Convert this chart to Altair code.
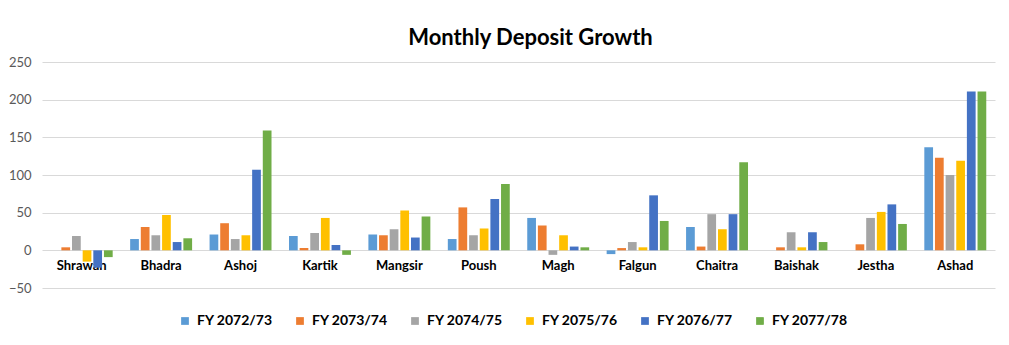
import altair as alt
import pandas as pd

months = ["Shrawan", "Bhadra", "Ashoj", "Kartik", "Mangsir", "Poush",
          "Magh", "Falgun", "Chaitra", "Baishak", "Jestha", "Ashad"]
series = ["FY 2072/73", "FY 2073/74", "FY 2074/75", "FY 2075/76", "FY 2076/77", "FY 2077/78"]
colors = ["#5B9BD5", "#ED7D31", "#A5A5A5", "#FFC000", "#4472C4", "#70AD47"]

fy_7273 = [0, 15, 21, 19, 21, 15, 43, -5, 31, 0, 0, 137]
fy_7374 = [4, 31, 36, 3, 20, 57, 33, 3, 5, 4, 8, 123]
fy_7475 = [19, 20, 15, 23, 28, 20, -6, 11, 48, 24, 43, 100]
fy_7576 = [-15, 47, 20, 43, 53, 29, 20, 4, 28, 4, 51, 119]
fy_7677 = [-23, 11, 107, 7, 17, 68, 5, 73, 48, 24, 61, 211]
fy_7778 = [-9, 16, 159, -6, 45, 88, 4, 39, 117, 11, 35, 211]

values = [fy_7273, fy_7374, fy_7475, fy_7576, fy_7677, fy_7778]
rows = []
for s, vals in zip(series, values):
    for m, v in zip(months, vals):
        rows.append({"Month": m, "Series": s, "Value": v})
df = pd.DataFrame(rows)

FONT = "Lato"

chart = alt.Chart(df).mark_bar().encode(
    x=alt.X("Month:N", sort=months,
            scale=alt.Scale(paddingInner=0.22, paddingOuter=0.11),
            axis=alt.Axis(title=None, orient="bottom", offset=-38, domain=False, ticks=False,
                          grid=False,
                          labelAngle=0, labelFont=FONT, labelFontSize=13, labelFontWeight="bold",
                          labelColor="#000000", labelPadding=9)),
    xOffset=alt.XOffset("Series:N", sort=series, scale=alt.Scale(paddingInner=0.18)),
    y=alt.Y("Value:Q", scale=alt.Scale(domain=[-50, 250], nice=False),
            axis=alt.Axis(title=None, values=[-50, 0, 50, 100, 150, 200, 250], domain=False,
                          ticks=False, labelFont=FONT, labelFontSize=13, labelColor="#595959",
                          labelPadding=11, gridColor="#D9D9D9", gridWidth=1)),
    color=alt.Color("Series:N", sort=series,
                    scale=alt.Scale(domain=series, range=colors),
                    legend=alt.Legend(title=None, orient="none", direction="horizontal",
                                      legendX=136, legendY=252, symbolType="square",
                                      symbolSize=60, symbolStrokeWidth=0, labelFont=FONT,
                                      labelFontSize=14, labelFontWeight="bold",
                                      labelColor="#000000", columnPadding=20, labelOffset=5)),
).properties(
    width=953, height=226,
    background="white",
    title=alt.TitleParams("Monthly Deposit Growth", font=FONT, fontSize=22,
                          fontWeight="bold", color="#000000", offset=6, anchor="middle",
                          dx=12),
    autosize=alt.AutoSizeParams(type="none"),
    padding={"left": 42, "top": 62, "right": 14, "bottom": 57},
).configure_view(stroke=None, strokeWidth=0)

chart.save("out.html", embed_options={"renderer": "svg", "actions": False})
